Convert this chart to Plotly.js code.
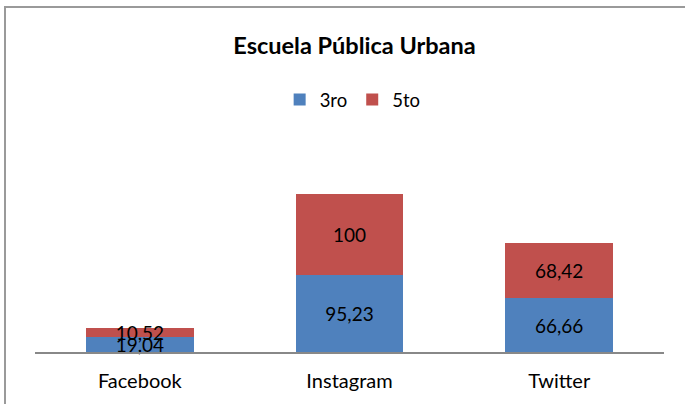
<!DOCTYPE html>
<html>
<head>
<meta charset="utf-8">
<script src="https://cdn.plot.ly/plotly-3.0.1.min.js"></script>
<style>
html,body{margin:0;padding:0;background:#fff;}
#wrap{position:relative;width:685px;height:404px;overflow:hidden;}
#chart{position:absolute;left:0;top:0;width:685px;height:404px;}
#frame{position:absolute;left:4px;top:6px;width:700px;height:420px;border:2px solid #9a9a9a;box-sizing:border-box;pointer-events:none;}
</style>
</head>
<body>
<div id="wrap"><div id="chart"></div><div id="frame"></div></div>
<script>
const categories = ["Facebook", "Instagram", "Twitter"];
const seriesNames = ["3ro", "5to"];
const values3ro = [19.04, 95.23, 66.66];
const values5to = [10.52, 100, 68.42];
const colors = ["#4F81BD", "#C0504D"];

const fmt = v => String(v).replace('.', ',');
const FONT = 'Lato, "Open Sans", sans-serif';

function mk(name, vals, color) {
  return {
    type: 'bar',
    name: name,
    x: categories,
    y: vals,
    text: vals.map(fmt),
    textposition: 'inside',
    insidetextanchor: 'middle',
    constraintext: 'none',
    textangle: 0,
    textfont: {family: FONT, size: 19, color: '#000'},
    insidetextfont: {family: FONT, size: 19, color: '#000'},
    marker: {color: color, line: {width: 0}},
    hoverinfo: 'none',
    cliponaxis: false
  };
}

const data = [
  mk(seriesNames[0], values3ro, colors[0]),
  mk(seriesNames[1], values5to, colors[1])
];

const layout = {
  width: 685, height: 404,
  margin: {l: 35, r: 21, t: 150, b: 52, pad: 0},
  paper_bgcolor: '#fff', plot_bgcolor: '#fff',
  barmode: 'stack',
  bargap: 0.486,
  showlegend: true,
  title: {
    text: '<b>Escuela Pública Urbana</b>',
    font: {family: FONT, size: 23.5, color: '#000'},
    x: 0.508, xanchor: 'center', xref: 'paper',
    y: 1 - 46/404, yanchor: 'middle', yref: 'container'
  },
  legend: {
    orientation: 'h',
    x: 0.505, xanchor: 'center',
    y: (352 - 100) / 202, yanchor: 'middle',
    font: {family: FONT, size: 18.5, color: '#000'},
    traceorder: 'normal',
    itemwidth: 30,
    itemclick: false
  },
  xaxis: {
    type: 'category',
    range: [-0.5, 2.5],
    showline: true, linecolor: '#888888', linewidth: 2,
    ticks: '', showgrid: false, zeroline: false,
    tickfont: {family: FONT, size: 20, color: '#000'},
    ticklabelstandoff: 10
  },
  yaxis: {
    range: [0, 250],
    visible: false,
    showgrid: false, zeroline: false
  },
  font: {family: FONT}
};

Plotly.newPlot('chart', data, layout, {displayModeBar: false, staticPlot: true});
</script>
</body>
</html>
